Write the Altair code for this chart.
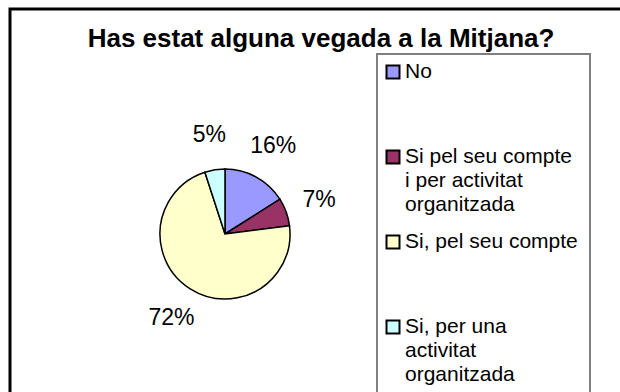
import altair as alt
import pandas as pd

# Survey answers, in the order the slices run clockwise from 12 o'clock
categories = [
    "No",
    "Si pel seu compte i per activitat organitzada",
    "Si, pel seu compte",
    "Si, per una activitat organitzada",
]
legend_labels = [
    "No",
    "Si pel seu compte\ni per activitat\norganitzada",
    "Si, pel seu compte",
    "Si, per una\nactivitat\norganitzada",
]
percentages = [16, 7, 72, 5]
colors = ["#9999FF", "#993366", "#FFFFCC", "#CCFFFF"]
chart_title = "Has estat alguna vegada a la Mitjana?"

FONT = "Liberation Sans, Arial, sans-serif"

df = pd.DataFrame({
    "categoria": categories,
    "etiqueta": legend_labels,
    "percentatge": percentages,
    "ordre": list(range(len(categories))),
})
df["text"] = df["percentatge"].astype(str) + "%"

one_row = pd.DataFrame({"k": [0]})

color_scale = alt.Scale(domain=categories, range=colors)
color = alt.Color("categoria:N", scale=color_scale, legend=None)
theta = alt.Theta("percentatge:Q", stack=True)
order = alt.Order("ordre:Q")
cx, cy = 225, 234

# Outer frame of the chart area
frame = alt.Chart(one_row).mark_rect(
    filled=False, stroke="black", strokeWidth=3
).encode(x=alt.value(10), x2=alt.value(800), y=alt.value(9), y2=alt.value(800))

# Legend box
legend_box = alt.Chart(one_row).mark_rect(
    filled=False, stroke="#808080", strokeWidth=2
).encode(x=alt.value(377), x2=alt.value(590), y=alt.value(54), y2=alt.value(800))

pie = alt.Chart(df).mark_arc(
    outerRadius=65, stroke="black", strokeWidth=1.5
).encode(theta=theta, order=order, color=color, x=alt.value(cx), y=alt.value(cy))

pct_labels = alt.Chart(df).mark_text(
    radius=100, fontSize=23, font=FONT, color="black", baseline="middle"
).encode(theta=theta, order=order, text="text:N", x=alt.value(cx), y=alt.value(cy))

legend_y = alt.Y(
    "categoria:N",
    scale=alt.Scale(type="point", domain=categories, range=[72, 327], padding=0),
    axis=None,
)

legend_squares = alt.Chart(df).mark_square(
    size=169, stroke="black", strokeWidth=2, opacity=1
).encode(x=alt.value(393), y=legend_y, color=color)

legend_text = alt.Chart(df).mark_text(
    align="left", baseline="alphabetic", dy=6, lineBreak="\n", lineHeight=24,
    fontSize=21, font=FONT, color="black"
).encode(x=alt.value(405), y=legend_y, text="etiqueta:N")

title_text = alt.Chart(one_row).mark_text(
    fontSize=26, fontWeight="bold", font=FONT, color="black",
    align="center", baseline="alphabetic"
).encode(x=alt.value(321), y=alt.value(47), text=alt.value(chart_title))

chart = alt.layer(
    frame, legend_box, pie, pct_labels, legend_squares, legend_text, title_text
).properties(
    width=620, height=392, padding=0,
    autosize=alt.AutoSizeParams(type="none"),
    background="white",
).configure_view(stroke=None)

chart.save("out.html", embed_options={"renderer": "svg", "actions": False})
